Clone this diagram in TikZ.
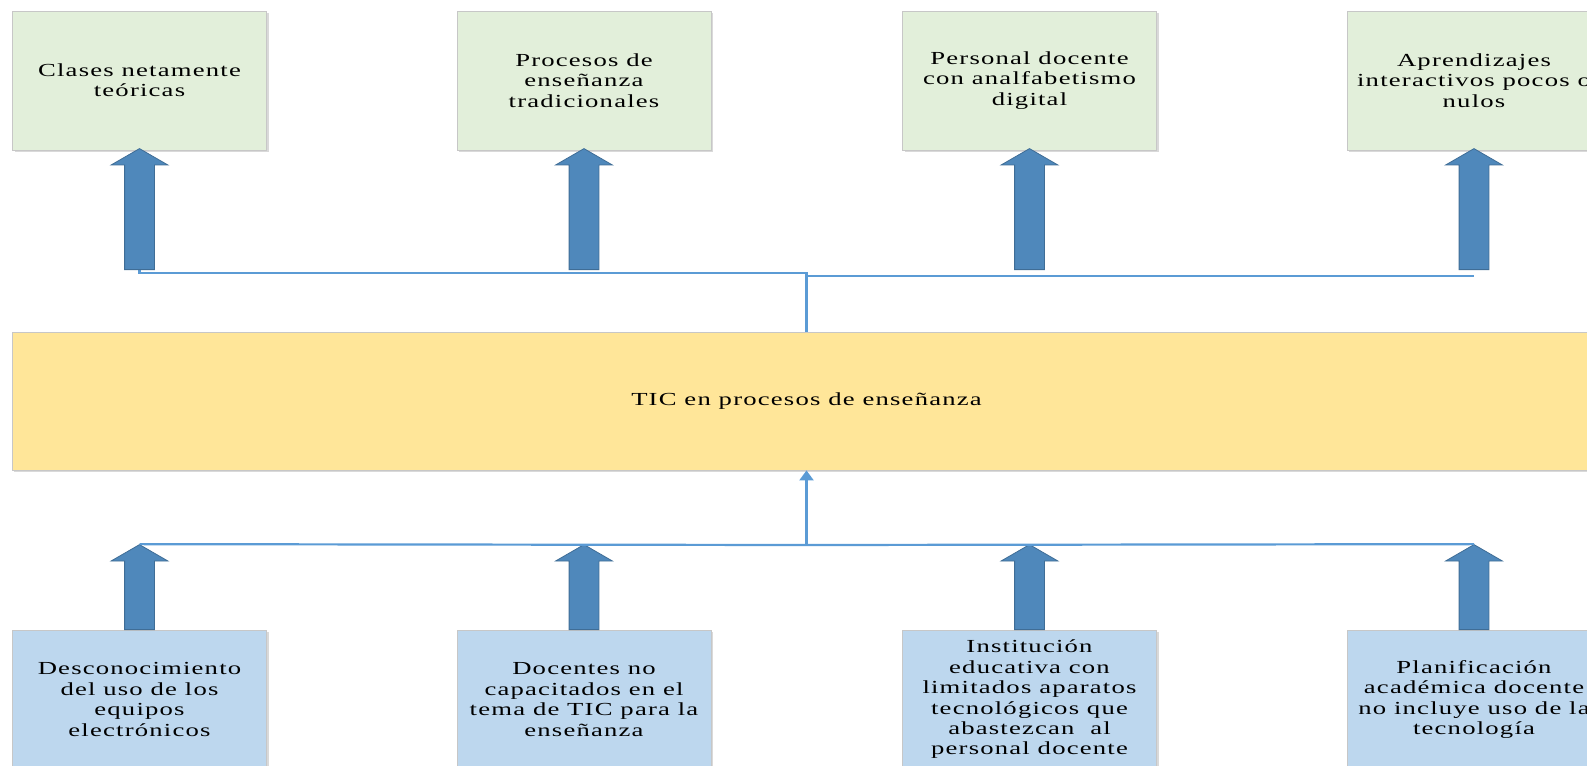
\documentclass[tikz,border=0pt]{standalone}
\usepackage{fontspec}
\setmainfont{Liberation Serif}[FakeStretch=1.45,LetterSpace=6.5]
\usetikzlibrary{shapes.arrows,arrows.meta,shadows}

\definecolor{causa}{HTML}{BDD7EE}
\definecolor{efecto}{HTML}{E2EFDA}
\definecolor{problema}{HTML}{FFE699}
\definecolor{flecha}{HTML}{4F88BB}
\definecolor{linea}{HTML}{5B9BD5}

\tikzset{
  caja/.style={draw=black!22, line width=0.4pt, minimum width=127pt,
    minimum height=69.5pt, align=center, inner sep=2pt,
    font=\fontsize{9.2}{10.2}\selectfont,
    drop shadow={shadow xshift=1pt, shadow yshift=-1pt, opacity=0.25, fill=black!60}},
  efe/.style={caja, fill=efecto},
  cau/.style={caja, fill=causa},
  subida/.style={single arrow, rotate=90, anchor=tail, fill=flecha,
    draw=flecha!80!black, line width=0.4pt, inner xsep=0pt, inner ysep=7.25pt,
    minimum width=28pt, single arrow head extend=6.75pt, single arrow tip angle=120},
  enlace/.style={draw=linea, line width=1.1pt}
}

\begin{document}
\begin{tikzpicture}[x=0.5pt,y=-0.5pt]
  \useasboundingbox (0,0) rectangle (1587,766);
  \clip (0,0) rectangle (1587,766);
  % efectos
  \node[efe] (e1) at (139.5,80.5) {Clases netamente\\teóricas};
  \node[efe] (e2) at (584,80.5) {Procesos de\\enseñanza\\tradicionales};
  \node[efe] (e3) at (1029.5,80.5) {Personal docente\\con analfabetismo\\digital};
  \node[efe] (e4) at (1474,80.5) {Aprendizajes\\interactivos pocos o\\nulos};
  % problema
  \node[caja, fill=problema, minimum width=794.5pt, minimum height=69pt] (tic)
    at (806.5,401) {TIC en procesos de enseñanza};
  % causas
  \node[cau] (c1) at (139.5,699.5) {Desconocimiento\\del uso de los\\equipos\\electrónicos};
  \node[cau] (c2) at (584,699.5) {Docentes no\\capacitados en el\\tema de TIC para la\\enseñanza};
  \node[cau] (c3) at (1029.5,699.5) {Institución\\educativa con\\limitados aparatos\\tecnológicos que\\abastezcan~ al\\personal docente};
  \node[cau] (c4) at (1474,699.5) {Planificación\\académica docente\\no incluye uso de la\\tecnología};
  % flechas
  \coordinate (unionsup) at (806.5,273);
  \coordinate (unionsupd) at (806.5,276);
  \coordinate (unioninf) at (806.5,545);
  \draw[enlace] (139.5,270) |- (unionsup) -- (tic.north);
  \draw[enlace] (unionsupd) -- (1474,276);
  \node[subida, minimum height=60.5pt] (fe1) at (139.5,270) {};
  \node[subida, minimum height=60.5pt] (fe2) at (584,270) {};
  \node[subida, minimum height=60.5pt] (fe3) at (1029.5,270) {};
  \node[subida, minimum height=60.5pt] (fe4) at (1474,270) {};
  \node[subida, minimum height=42.5pt] (fc1) at (139.5,630) {};
  \node[subida, minimum height=42.5pt] (fc2) at (584,630) {};
  \node[subida, minimum height=42.5pt] (fc3) at (1029.5,630) {};
  \node[subida, minimum height=42.5pt] (fc4) at (1474,630) {};
  \draw[enlace] (fc1.tip) -- (unioninf) -- (fc4.tip);
  \draw[enlace, -{Triangle[width=7pt,length=5pt]}] (unioninf) -- (tic.south);
\end{tikzpicture}
\end{document}
